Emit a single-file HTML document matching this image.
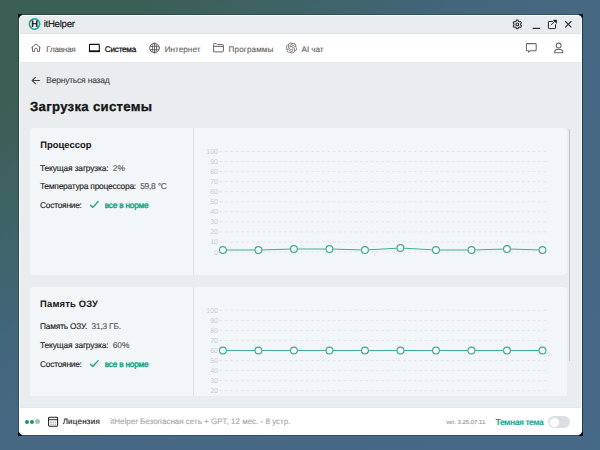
<!DOCTYPE html>
<html><head><meta charset="utf-8">
<style>
*{margin:0;padding:0;box-sizing:border-box}
html,body{width:600px;height:450px;overflow:hidden}
body{position:relative;font-family:"Liberation Sans",sans-serif;text-rendering:geometricPrecision;
background:linear-gradient(to bottom right,#3a5f55 0%,#3a5f55 12%,#3e6365 25%,#42667a 37.5%,#466883 50%,#476988 100%);}
.abs{position:absolute;white-space:nowrap}
.t{position:absolute;white-space:nowrap;line-height:1;-webkit-text-stroke:0.15px currentColor}
#frame{position:absolute;left:18px;top:14px;width:565px;height:422px;border-style:solid;border-color:rgba(0,0,0,0.2) rgba(0,0,0,0.45) rgba(0,0,0,0.24) rgba(0,0,0,0.22);border-width:1px}
.cn{position:absolute;width:4px;height:4px;background:#0b0f10}
#win{position:absolute;left:19px;top:15px;width:563px;height:420px;border-radius:4px;overflow:hidden;background:#e9edf0;border:1px solid #fff}
#title{position:absolute;left:0;top:0;width:561px;height:18px;background:#e9ecef;border-bottom:1px solid #e1e4e7}
#nav{position:absolute;left:0;top:18px;width:561px;height:28px;background:#fff;box-shadow:0 1px 0 #e4e8eb}
#footer{position:absolute;left:0;top:392px;width:561px;height:27px;background:#fff;box-shadow:0 -1px 0 #e5e7ea}
.card{position:absolute;background:#f3f6f9;border-radius:4px}
</style></head><body>
<div id="frame"></div>
<div class="cn" style="left:18px;top:14px"></div><div class="cn" style="left:579px;top:14px"></div><div class="cn" style="left:18px;top:432px"></div><div class="cn" style="left:579px;top:432px"></div>
<div id="win">
  <div id="title"></div>
  <div id="nav"></div>
  <div id="footer"></div>
</div>
<div class="card" style="left:30px;top:128px;width:537px;height:147px"></div>
<div class="card" style="left:30px;top:287px;width:537px;height:109px;border-radius:4px 4px 0 0"></div>
<div class="abs" style="left:193px;top:128px;width:1px;height:147px;background:#dde2e6"></div>
<div class="abs" style="left:193px;top:287px;width:1px;height:109px;background:#dde2e6"></div>
<div class="abs" style="left:569px;top:129px;width:1px;height:232px;background:#bfc4c8"></div>
<svg class="abs" style="left:0;top:0" width="600" height="450" viewBox="0 0 600 450" font-family="Liberation Sans" font-size="7" fill="#c8cdd2">
<defs><clipPath id="c2"><rect x="0" y="287" width="600" height="109"/></clipPath></defs>
<line x1="219.4" y1="252.00" x2="547" y2="252.00" stroke="#e2e6e9" stroke-width="1" stroke-dasharray="2.8 2.6"/>
<text x="218" y="254.50" text-anchor="end">0</text>
<line x1="219.4" y1="241.95" x2="547" y2="241.95" stroke="#e2e6e9" stroke-width="1" stroke-dasharray="2.8 2.6"/>
<text x="218" y="244.45" text-anchor="end">10</text>
<line x1="219.4" y1="231.90" x2="547" y2="231.90" stroke="#e2e6e9" stroke-width="1" stroke-dasharray="2.8 2.6"/>
<text x="218" y="234.40" text-anchor="end">20</text>
<line x1="219.4" y1="221.85" x2="547" y2="221.85" stroke="#e2e6e9" stroke-width="1" stroke-dasharray="2.8 2.6"/>
<text x="218" y="224.35" text-anchor="end">30</text>
<line x1="219.4" y1="211.80" x2="547" y2="211.80" stroke="#e2e6e9" stroke-width="1" stroke-dasharray="2.8 2.6"/>
<text x="218" y="214.30" text-anchor="end">40</text>
<line x1="219.4" y1="201.75" x2="547" y2="201.75" stroke="#e2e6e9" stroke-width="1" stroke-dasharray="2.8 2.6"/>
<text x="218" y="204.25" text-anchor="end">50</text>
<line x1="219.4" y1="191.70" x2="547" y2="191.70" stroke="#e2e6e9" stroke-width="1" stroke-dasharray="2.8 2.6"/>
<text x="218" y="194.20" text-anchor="end">60</text>
<line x1="219.4" y1="181.65" x2="547" y2="181.65" stroke="#e2e6e9" stroke-width="1" stroke-dasharray="2.8 2.6"/>
<text x="218" y="184.15" text-anchor="end">70</text>
<line x1="219.4" y1="171.60" x2="547" y2="171.60" stroke="#e2e6e9" stroke-width="1" stroke-dasharray="2.8 2.6"/>
<text x="218" y="174.10" text-anchor="end">80</text>
<line x1="219.4" y1="161.55" x2="547" y2="161.55" stroke="#e2e6e9" stroke-width="1" stroke-dasharray="2.8 2.6"/>
<text x="218" y="164.05" text-anchor="end">90</text>
<line x1="219.4" y1="151.50" x2="547" y2="151.50" stroke="#e2e6e9" stroke-width="1" stroke-dasharray="2.8 2.6"/>
<text x="218" y="154.00" text-anchor="end">100</text>
<path d="M222.90,249.99 L258.41,249.99 L293.92,248.99 L329.43,248.99 L364.94,249.99 L400.45,247.98 L435.96,249.99 L471.47,249.99 L506.98,248.99 L542.49,249.99" fill="none" stroke="#40ae9b" stroke-width="1.05"/>
<circle cx="222.90" cy="249.99" r="3.4" fill="#fbfdfd" stroke="#3ea896" stroke-width="1.15"/>
<circle cx="258.41" cy="249.99" r="3.4" fill="#fbfdfd" stroke="#3ea896" stroke-width="1.15"/>
<circle cx="293.92" cy="248.99" r="3.4" fill="#fbfdfd" stroke="#3ea896" stroke-width="1.15"/>
<circle cx="329.43" cy="248.99" r="3.4" fill="#fbfdfd" stroke="#3ea896" stroke-width="1.15"/>
<circle cx="364.94" cy="249.99" r="3.4" fill="#fbfdfd" stroke="#3ea896" stroke-width="1.15"/>
<circle cx="400.45" cy="247.98" r="3.4" fill="#fbfdfd" stroke="#3ea896" stroke-width="1.15"/>
<circle cx="435.96" cy="249.99" r="3.4" fill="#fbfdfd" stroke="#3ea896" stroke-width="1.15"/>
<circle cx="471.47" cy="249.99" r="3.4" fill="#fbfdfd" stroke="#3ea896" stroke-width="1.15"/>
<circle cx="506.98" cy="248.99" r="3.4" fill="#fbfdfd" stroke="#3ea896" stroke-width="1.15"/>
<circle cx="542.49" cy="249.99" r="3.4" fill="#fbfdfd" stroke="#3ea896" stroke-width="1.15"/>
<g clip-path="url(#c2)">
<line x1="219.4" y1="410.80" x2="547" y2="410.80" stroke="#e2e6e9" stroke-width="1" stroke-dasharray="2.8 2.6"/>
<text x="218" y="413.30" text-anchor="end">0</text>
<line x1="219.4" y1="400.75" x2="547" y2="400.75" stroke="#e2e6e9" stroke-width="1" stroke-dasharray="2.8 2.6"/>
<text x="218" y="403.25" text-anchor="end">10</text>
<line x1="219.4" y1="390.70" x2="547" y2="390.70" stroke="#e2e6e9" stroke-width="1" stroke-dasharray="2.8 2.6"/>
<text x="218" y="393.20" text-anchor="end">20</text>
<line x1="219.4" y1="380.65" x2="547" y2="380.65" stroke="#e2e6e9" stroke-width="1" stroke-dasharray="2.8 2.6"/>
<text x="218" y="383.15" text-anchor="end">30</text>
<line x1="219.4" y1="370.60" x2="547" y2="370.60" stroke="#e2e6e9" stroke-width="1" stroke-dasharray="2.8 2.6"/>
<text x="218" y="373.10" text-anchor="end">40</text>
<line x1="219.4" y1="360.55" x2="547" y2="360.55" stroke="#e2e6e9" stroke-width="1" stroke-dasharray="2.8 2.6"/>
<text x="218" y="363.05" text-anchor="end">50</text>
<line x1="219.4" y1="350.50" x2="547" y2="350.50" stroke="#e2e6e9" stroke-width="1" stroke-dasharray="2.8 2.6"/>
<text x="218" y="353.00" text-anchor="end">60</text>
<line x1="219.4" y1="340.45" x2="547" y2="340.45" stroke="#e2e6e9" stroke-width="1" stroke-dasharray="2.8 2.6"/>
<text x="218" y="342.95" text-anchor="end">70</text>
<line x1="219.4" y1="330.40" x2="547" y2="330.40" stroke="#e2e6e9" stroke-width="1" stroke-dasharray="2.8 2.6"/>
<text x="218" y="332.90" text-anchor="end">80</text>
<line x1="219.4" y1="320.35" x2="547" y2="320.35" stroke="#e2e6e9" stroke-width="1" stroke-dasharray="2.8 2.6"/>
<text x="218" y="322.85" text-anchor="end">90</text>
<line x1="219.4" y1="310.30" x2="547" y2="310.30" stroke="#e2e6e9" stroke-width="1" stroke-dasharray="2.8 2.6"/>
<text x="218" y="312.80" text-anchor="end">100</text>
<path d="M222.90,350.50 L258.41,350.50 L293.92,350.50 L329.43,350.50 L364.94,350.50 L400.45,350.50 L435.96,350.50 L471.47,350.50 L506.98,350.50 L542.49,350.50" fill="none" stroke="#40ae9b" stroke-width="1.05"/>
<circle cx="222.90" cy="350.50" r="3.4" fill="#fbfdfd" stroke="#3ea896" stroke-width="1.15"/>
<circle cx="258.41" cy="350.50" r="3.4" fill="#fbfdfd" stroke="#3ea896" stroke-width="1.15"/>
<circle cx="293.92" cy="350.50" r="3.4" fill="#fbfdfd" stroke="#3ea896" stroke-width="1.15"/>
<circle cx="329.43" cy="350.50" r="3.4" fill="#fbfdfd" stroke="#3ea896" stroke-width="1.15"/>
<circle cx="364.94" cy="350.50" r="3.4" fill="#fbfdfd" stroke="#3ea896" stroke-width="1.15"/>
<circle cx="400.45" cy="350.50" r="3.4" fill="#fbfdfd" stroke="#3ea896" stroke-width="1.15"/>
<circle cx="435.96" cy="350.50" r="3.4" fill="#fbfdfd" stroke="#3ea896" stroke-width="1.15"/>
<circle cx="471.47" cy="350.50" r="3.4" fill="#fbfdfd" stroke="#3ea896" stroke-width="1.15"/>
<circle cx="506.98" cy="350.50" r="3.4" fill="#fbfdfd" stroke="#3ea896" stroke-width="1.15"/>
<circle cx="542.49" cy="350.50" r="3.4" fill="#fbfdfd" stroke="#3ea896" stroke-width="1.15"/>
</g>
</svg>
<svg class="abs" style="left:0;top:0" width="600" height="450" viewBox="0 0 600 450" fill="none" stroke-linecap="round" stroke-linejoin="round">
<!-- home -->
<g stroke="#6a6a6a" stroke-width="1">
<path d="M31.6,47.8 L36,43.9 L40.4,47.8 M32.5,47 V51.6 H34.6 V49.6 A1.4,1.4 0 0 1 37.4,49.6 V51.6 H39.5 V47"/>
</g>
<!-- laptop -->
<rect x="89.5" y="44.4" width="9.8" height="6.6" rx="0.6" stroke="#111" stroke-width="1.1"/>
<line x1="88.8" y1="51.4" x2="100" y2="51.4" stroke="#111" stroke-width="1.5" stroke-linecap="butt"/>
<!-- globe -->
<g stroke="#666" stroke-width="0.95">
<circle cx="154.5" cy="48" r="4.8"/>
<ellipse cx="154.5" cy="48" rx="2.1" ry="4.8"/>
<line x1="154.5" y1="43.2" x2="154.5" y2="52.8"/>
<line x1="150.2" y1="46.3" x2="158.8" y2="46.3"/>
<line x1="150.2" y1="49.7" x2="158.8" y2="49.7"/>
</g>
<!-- folder -->
<path d="M213.6,51.2 V44.3 Q213.6,43.6 214.3,43.6 H216.4 L217.4,44.6 H222.7 Q223.4,44.6 223.4,45.3 V51.2 Q223.4,51.9 222.7,51.9 H214.3 Q213.6,51.9 213.6,51.2 Z M213.6,46.4 H223.4" stroke="#666" stroke-width="1"/>
<!-- openai -->
<g transform="translate(285.9,42.5) scale(0.46)" fill="#686868" stroke="none">
<path d="M22.2819 9.8211a5.9847 5.9847 0 0 0-.5157-4.9108 6.0462 6.0462 0 0 0-6.5098-2.9A6.0651 6.0651 0 0 0 4.9807 4.1818a5.9847 5.9847 0 0 0-3.9977 2.9 6.0462 6.0462 0 0 0 .7427 7.0966 5.98 5.98 0 0 0 .511 4.9107 6.051 6.051 0 0 0 6.5146 2.9001A5.9847 5.9847 0 0 0 13.2599 24a6.0557 6.0557 0 0 0 5.7718-4.2058 5.9894 5.9894 0 0 0 3.9977-2.9001 6.0557 6.0557 0 0 0-.7475-7.0729zm-9.022 12.6081a4.4755 4.4755 0 0 1-2.8764-1.0408l.1419-.0804 4.7783-2.7582a.7948.7948 0 0 0 .3927-.6813v-6.7369l2.02 1.1686a.071.071 0 0 1 .038.052v5.5826a4.504 4.504 0 0 1-4.4945 4.4944zm-9.6607-4.1254a4.4708 4.4708 0 0 1-.5346-3.0137l.142.0852 4.783 2.7582a.7712.7712 0 0 0 .7806 0l5.8428-3.3685v2.3324a.0804.0804 0 0 1-.0332.0615L9.74 19.9502a4.4992 4.4992 0 0 1-6.1408-1.6464zM2.3408 7.8956a4.485 4.485 0 0 1 2.3655-1.9728V11.6a.7664.7664 0 0 0 .3879.6765l5.8144 3.3543-2.0201 1.1685a.0757.0757 0 0 1-.071 0l-4.8303-2.7865A4.504 4.504 0 0 1 2.3408 7.872zm16.5963 3.8558L13.1038 8.364 15.1192 7.2a.0757.0757 0 0 1 .071 0l4.8303 2.7913a4.4944 4.4944 0 0 1-.6765 8.1042v-5.6772a.79.79 0 0 0-.407-.667zm2.0107-3.0231l-.142-.0852-4.7735-2.7818a.7759.7759 0 0 0-.7854 0L9.409 9.2297V6.8974a.0662.0662 0 0 1 .0284-.0615l4.8303-2.7866a4.4992 4.4992 0 0 1 6.6802 4.66zM8.3065 12.863l-2.02-1.1638a.0804.0804 0 0 1-.038-.0567V6.0742a4.4992 4.4992 0 0 1 7.3757-3.4537l-.142.0805L8.704 5.459a.7948.7948 0 0 0-.3927.6813zm1.0976-2.3654l2.602-1.4998 2.6069 1.4998v2.9994l-2.5974 1.4997-2.6067-1.4997Z"/>
</g>
<!-- gear -->
<g transform="translate(517.3,24.4)" stroke="#2e2e2e" stroke-width="1.1">
<path d="M0.00,-4.39 L0.23,-4.38 L0.46,-4.35 L0.68,-4.27 L0.87,-4.08 L1.00,-3.72 L1.09,-3.35 L1.21,-3.15 L1.35,-3.04 L1.51,-2.96 L1.66,-2.87 L1.81,-2.78 L1.96,-2.69 L2.13,-2.62 L2.36,-2.62 L2.72,-2.72 L3.10,-2.79 L3.36,-2.72 L3.54,-2.57 L3.68,-2.39 L3.80,-2.19 L3.91,-1.99 L3.99,-1.78 L4.04,-1.55 L3.97,-1.29 L3.72,-1.00 L3.45,-0.73 L3.34,-0.53 L3.31,-0.35 L3.31,-0.17 L3.31,-0.00 L3.31,0.17 L3.31,0.35 L3.34,0.53 L3.45,0.73 L3.72,1.00 L3.97,1.29 L4.04,1.55 L3.99,1.78 L3.91,1.99 L3.80,2.19 L3.68,2.39 L3.54,2.57 L3.36,2.72 L3.10,2.79 L2.72,2.72 L2.36,2.62 L2.13,2.62 L1.96,2.69 L1.81,2.78 L1.66,2.87 L1.51,2.96 L1.35,3.04 L1.21,3.15 L1.09,3.35 L1.00,3.72 L0.87,4.08 L0.68,4.27 L0.46,4.35 L0.23,4.38 L0.00,4.39 L-0.23,4.38 L-0.46,4.35 L-0.68,4.27 L-0.87,4.08 L-1.00,3.72 L-1.09,3.35 L-1.21,3.15 L-1.35,3.04 L-1.51,2.96 L-1.66,2.87 L-1.81,2.78 L-1.96,2.69 L-2.13,2.62 L-2.36,2.62 L-2.72,2.72 L-3.10,2.79 L-3.36,2.72 L-3.54,2.57 L-3.68,2.39 L-3.80,2.19 L-3.91,1.99 L-3.99,1.78 L-4.04,1.55 L-3.97,1.29 L-3.72,1.00 L-3.45,0.73 L-3.34,0.53 L-3.31,0.35 L-3.31,0.17 L-3.31,0.00 L-3.31,-0.17 L-3.31,-0.35 L-3.34,-0.53 L-3.45,-0.73 L-3.72,-1.00 L-3.97,-1.29 L-4.04,-1.55 L-3.99,-1.78 L-3.91,-1.99 L-3.80,-2.19 L-3.68,-2.39 L-3.54,-2.57 L-3.36,-2.72 L-3.10,-2.79 L-2.72,-2.72 L-2.36,-2.62 L-2.13,-2.62 L-1.96,-2.69 L-1.81,-2.78 L-1.66,-2.87 L-1.51,-2.96 L-1.35,-3.04 L-1.21,-3.15 L-1.09,-3.35 L-1.00,-3.72 L-0.87,-4.08 L-0.68,-4.27 L-0.46,-4.35 L-0.23,-4.38 Z"/>
<circle cx="0" cy="0" r="1.35"/>
</g>
<!-- minimize -->
<line x1="533.2" y1="28.4" x2="539.6" y2="28.4" stroke="#333" stroke-width="1.1"/>
<!-- popout -->
<path d="M552.4,21.5 H549.1 Q548.4,21.5 548.4,22.2 V27.9 Q548.4,28.6 549.1,28.6 H554.8 Q555.5,28.6 555.5,27.9 V24.6" stroke="#262626" stroke-width="1"/>
<path d="M551.5,24.6 L555,21.1" stroke="#262626" stroke-width="1"/>
<path d="M553.5,20.1 L556.6,20.1 L556.6,23.2 Z" fill="#1a1a1a" stroke="#1a1a1a" stroke-width="0.5"/>
<!-- close -->
<line x1="565.5" y1="21.5" x2="571.1" y2="27.1" stroke="#333" stroke-width="1.1"/>
<line x1="571.1" y1="21.5" x2="565.5" y2="27.1" stroke="#333" stroke-width="1.1"/>
<!-- chat -->
<path d="M527.4,43.6 H535.2 Q536.2,43.6 536.2,44.6 V49.8 Q536.2,50.8 535.2,50.8 H530.2 L528.6,52.2 V50.8 H527.4 Q526.4,50.8 526.4,49.8 V44.6 Q526.4,43.6 527.4,43.6 Z" stroke="#676767" stroke-width="1.05"/>
<!-- user -->
<circle cx="558.7" cy="45.6" r="2.45" stroke="#676767" stroke-width="1.05"/>
<path d="M554.6,52.7 Q554.5,49.5 558.7,49.3 Q562.9,49.5 562.8,52.7 Z" stroke="#676767" stroke-width="1.05"/>
<!-- back arrow -->
<path d="M32.3,80.5 H39.6 M35.4,77.3 L32.2,80.5 L35.4,83.6" stroke="#444" stroke-width="1.1"/>
<!-- checks -->
<path d="M90.4,205.2 L92.8,207.4 L98.2,201.5" stroke="#1f9e88" stroke-width="1.3"/>
<path d="M90.4,364.3 L92.8,366.5 L98.2,360.6" stroke="#1f9e88" stroke-width="1.3"/>
<!-- calendar -->
<path d="M49.5,417.3 H56.7 Q57.6,417.3 57.6,418.2 V425.3 Q57.6,426.2 56.7,426.2 H49.5 Q48.6,426.2 48.6,425.3 V418.2 Q48.6,417.3 49.5,417.3 Z" stroke="#1e1e1e" stroke-width="1.05"/>
<line x1="48.6" y1="419.7" x2="57.6" y2="419.7" stroke="#1e1e1e" stroke-width="0.95"/>
<g fill="#a8a8a8" stroke="none">
<rect x="50.4" y="421.5" width="1.3" height="1.3"/><rect x="52.6" y="421.5" width="1.3" height="1.3"/><rect x="54.8" y="421.5" width="1.3" height="1.3"/>
<rect x="50.4" y="423.6" width="1.3" height="1.3"/><rect x="52.6" y="423.6" width="1.3" height="1.3"/><rect x="54.8" y="423.6" width="1.3" height="1.3"/>
</g>
</svg>
<svg class="abs" style="left:0;top:0" width="600" height="60"><circle cx="34.5" cy="24" r="5.1" fill="#fff" stroke="#26a898" stroke-width="1.8"/></svg>
<div class="t" style="left:31.2px;top:19.9px;font-size:9.3px;font-weight:700;color:#111;width:6.6px;text-align:center">H</div>
<div class="t" style="left:43.64px;top:20.41px;font-size:9.6px;font-weight:400;color:#151515;letter-spacing:-0.246px;">itHelper</div>
<div class="t" style="left:46.22px;top:45.81px;font-size:8.1px;font-weight:400;color:#666666;letter-spacing:-0.220px;">Главная</div>
<div class="t" style="left:104.85px;top:46.01px;font-size:8.2px;font-weight:400;color:#111;letter-spacing:-0.261px;-webkit-text-stroke:0.25px #111;">Система</div>
<div class="t" style="left:164.71px;top:45.81px;font-size:8.1px;font-weight:400;color:#666666;letter-spacing:0.052px;">Интернет</div>
<div class="t" style="left:228.59px;top:45.81px;font-size:8.1px;font-weight:400;color:#666666;letter-spacing:0.134px;">Программы</div>
<div class="t" style="left:301.60px;top:45.81px;font-size:8.1px;font-weight:400;color:#666666;letter-spacing:-0.069px;">AI чат</div>
<div class="t" style="left:46.20px;top:76.40px;font-size:8.5px;font-weight:400;color:#4a4a4a;letter-spacing:-0.213px;">Вернуться назад</div>
<div class="t" style="left:30.09px;top:100.31px;font-size:13.2px;font-weight:700;color:#151515;letter-spacing:0.280px;-webkit-text-stroke:0.05px currentColor;-webkit-text-stroke:0.3px #151515;">Загрузка системы</div>
<div class="t" style="left:40.28px;top:139.81px;font-size:9.4px;font-weight:700;color:#151515;letter-spacing:0.032px;-webkit-text-stroke:0.05px currentColor;">Процессор</div>
<div class="t" style="left:40.00px;top:163.51px;font-size:8.4px;font-weight:400;color:#1f1f1f;letter-spacing:-0.128px;">Текущая загрузка:&nbsp; <span style="color:#5a5a5a">2%</span></div>
<div class="t" style="left:39.88px;top:182.01px;font-size:8.5px;font-weight:400;color:#1f1f1f;letter-spacing:-0.281px;">Температура процессора:&nbsp; <span style="color:#5a5a5a">59,8 °C</span></div>
<div class="t" style="left:40.08px;top:201.10px;font-size:8.4px;font-weight:400;color:#1f1f1f;letter-spacing:-0.254px;">Состояние:</div>
<div class="t" style="left:104.77px;top:201.11px;font-size:8.3px;font-weight:400;color:#14a585;letter-spacing:-0.229px;-webkit-text-stroke:0.4px #14a585;">все в норме</div>
<div class="t" style="left:40.03px;top:299.01px;font-size:9.4px;font-weight:700;color:#151515;letter-spacing:0.210px;-webkit-text-stroke:0.05px currentColor;">Память ОЗУ</div>
<div class="t" style="left:40.09px;top:322.21px;font-size:8.3px;font-weight:400;color:#1f1f1f;letter-spacing:-0.172px;">Память ОЗУ.&nbsp; <span style="color:#5a5a5a">31,3 ГБ.</span></div>
<div class="t" style="left:40.08px;top:340.60px;font-size:8.4px;font-weight:400;color:#1f1f1f;letter-spacing:-0.133px;">Текущая загрузка:&nbsp; <span style="color:#5a5a5a">60%</span></div>
<div class="t" style="left:40.08px;top:360.10px;font-size:8.4px;font-weight:400;color:#1f1f1f;letter-spacing:-0.254px;">Состояние:</div>
<div class="t" style="left:104.77px;top:360.11px;font-size:8.3px;font-weight:400;color:#14a585;letter-spacing:-0.229px;-webkit-text-stroke:0.4px #14a585;">все в норме</div>
<div class="t" style="left:62.64px;top:417.80px;font-size:8.0px;font-weight:400;color:#1e1e1e;letter-spacing:0.233px;">Лицензия</div>
<div class="t" style="left:110.22px;top:418.01px;font-size:8.0px;font-weight:400;color:#a9a9a9;letter-spacing:0.004px;">itHelper Безопасная сеть + GPT, 12 мес. - 8 устр.</div>
<div class="t" style="left:446.32px;top:420.51px;font-size:5.9px;font-weight:400;color:#9a9a9a;letter-spacing:0.025px;">ver. 3.25.07.11</div>
<div class="t" style="left:495.57px;top:417.50px;font-size:8.6px;font-weight:700;color:#17a999;letter-spacing:-0.484px;-webkit-text-stroke:0.05px currentColor;">Темная тема</div>
<div class="abs" style="left:24.5px;top:419.7px;width:4.1px;height:4.1px;border-radius:50%;background:#169870"></div>
<div class="abs" style="left:29.5px;top:419.7px;width:4.1px;height:4.1px;border-radius:50%;background:#169870"></div>
<div class="abs" style="left:35px;top:419px;width:5.4px;height:5.4px;border-radius:50%;background:#b8bcc0"></div>
<div class="abs" style="left:548px;top:416px;width:22px;height:12px;border-radius:6px;background:#dcdfe2"></div>
<div class="abs" style="left:548.5px;top:416.5px;width:11px;height:11px;border-radius:50%;background:#fbfbfb;border:1px solid #e3e5e8"></div>
</body></html>
